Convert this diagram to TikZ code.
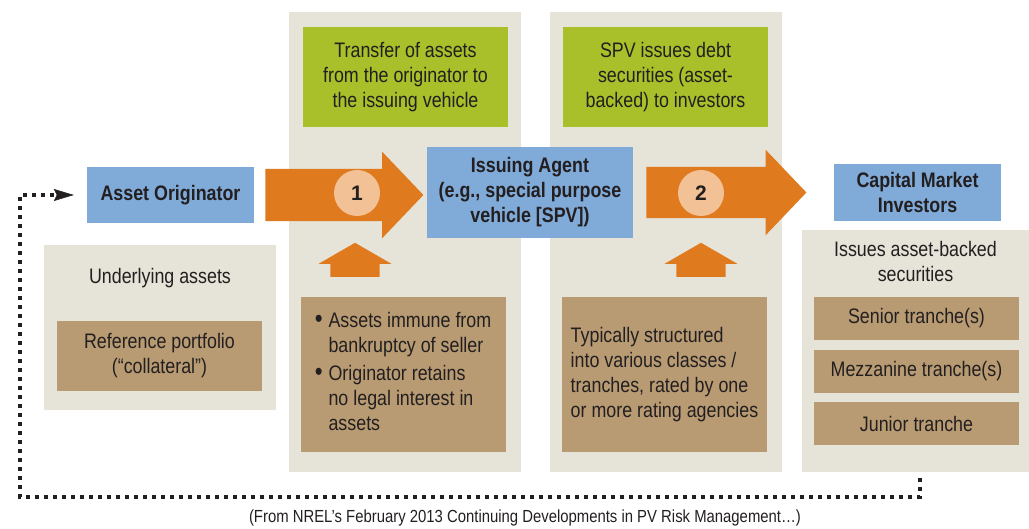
\documentclass[tikz,border=0pt]{standalone}
\usepackage{fontspec}
\setmainfont{Liberation Sans}[FakeStretch=0.85]
\newfontfamily\digitfont{Liberation Sans}
\usetikzlibrary{shapes.arrows,arrows.meta}
\definecolor{panelgrey}{HTML}{E6E4D8}
\definecolor{leafgreen}{HTML}{A9C02A}
\definecolor{skyblue}{HTML}{80AAD8}
\definecolor{tanbrown}{HTML}{B89B73}
\definecolor{flowcolor}{HTML}{E07A1E}
\definecolor{badgecolor}{HTML}{F3C196}
\definecolor{ink}{HTML}{231F20}
\newcommand{\bodyfont}{\fontsize{21}{25}\selectfont}

\begin{document}
\begin{tikzpicture}[x=1pt, y=-1pt,
  panel/.style={rectangle, fill=panelgrey, inner sep=0pt},
  action/.style={rectangle, fill=leafgreen, align=center, minimum width=205pt, minimum height=100pt, text=ink, font=\bodyfont},
  party/.style={rectangle, fill=skyblue, align=center, text=ink, font=\bodyfont\bfseries},
  detail/.style={rectangle, fill=tanbrown, text=ink, font=\bodyfont, minimum width=205pt},
  note/.style={text=ink, font=\bodyfont, align=center},
  flow/.style={single arrow, fill=flowcolor, inner sep=0pt, single arrow head extend=17pt, single arrow tip angle=92.7, anchor=tail},
  feed/.style={single arrow, fill=flowcolor, inner sep=0pt, minimum height=34pt, single arrow head extend=12pt, single arrow tip angle=120, rotate=90, anchor=tail},
  badge/.style={circle, fill=badgecolor, minimum size=46pt, inner sep=0pt, text=ink, font=\digitfont\fontsize{21}{21}\selectfont\bfseries},
  loop/.style={draw=ink, line width=3.5pt, dash pattern=on 4pt off 5pt}
]
\useasboundingbox (0,0) rectangle (1029,529);

\node[panel, minimum width=232pt, minimum height=165pt] (basepanel) at (160,327.5) {};
\node[panel, minimum width=232pt, minimum height=460pt] (transferpanel) at (405,242) {};
\node[panel, minimum width=232pt, minimum height=460pt] (issuepanel) at (666,242) {};
\node[panel, minimum width=227pt, minimum height=242pt] (investpanel) at (915.5,351) {};

\node[party, minimum width=167pt, minimum height=56pt] (originator) at (170.5,195) {Asset Originator};
\node[party, minimum width=206pt, minimum height=91pt] (agent) at (530,192.5) {Issuing Agent\\(e.g., special purpose\\vehicle [SPV])};
\node[party, minimum width=167pt, minimum height=57pt] (investors) at (917.5,192.5) {Capital Market\\Investors};

\node[action] (transfer) at (405.5,77) {Transfer of assets\\from the originator to\\the issuing vehicle};
\node[action] (issue) at (665.5,77) {SPV issues debt\\securities (asset-\\backed) to investors};

\node[note] (underlying) at (160,278) {Underlying assets};
\node[detail, minimum height=70pt, align=center] (collateral) at (159.5,356) {Reference portfolio\\(“collateral”)};

\node[detail, minimum height=155pt] (safeguards) at (403,374.5) {\begin{tabular}{@{}l@{\hspace{6pt}}l@{}}
\scalebox{1.25}{\textbullet} & Assets immune from\\
 & bankruptcy of seller\\[3pt]
\scalebox{1.25}{\textbullet} & Originator retains\\
 & no legal interest in\\
 & assets
\end{tabular}};
\node[detail, minimum height=155pt, align=left] (structure) at (664.5,374.5) {Typically structured\\into various classes /\\tranches, rated by one\\or more rating agencies};

\node[note] (abs) at (915.5,261) {Issues asset-backed\\securities};
\node[detail, minimum height=43pt] (senior) at (916.5,318.5) {Senior tranche(s)};
\node[detail, minimum height=43pt] (mezzanine) at (916.5,371.5) {Mezzanine tranche(s)};
\node[detail, minimum height=43pt] (junior) at (916.5,423.5) {Junior tranche};

\node[flow, minimum height=158pt] (step1) at ([xshift=11pt]originator.east) {\rule{0pt}{52pt}};
\node[flow, minimum height=160pt] (step2) at ([xshift=13pt]agent.east) {\rule{0pt}{51pt}};
\node[badge] (one) at (357,193) {1};
\node[badge] (two) at (701,193) {2};
\node[feed] (feedA) at (355,277) {\rule{0pt}{49pt}};
\node[feed] (feedB) at (701,277) {\rule{0pt}{49pt}};

\coordinate (loopcorner) at (20,497);
\draw[loop, -{Stealth[length=20pt, width=12pt, inset=3pt, line width=0.5pt]}, shorten <=6pt, shorten >=13pt]
  ([xshift=4.5pt]investpanel.south) |- (loopcorner) |- (originator.west);

\node[text=ink, font=\fontsize{17.5}{20}\selectfont] (source) at (525,518) {(From NREL’s February 2013 Continuing Developments in PV Risk Management…)};
\end{tikzpicture}
\end{document}
